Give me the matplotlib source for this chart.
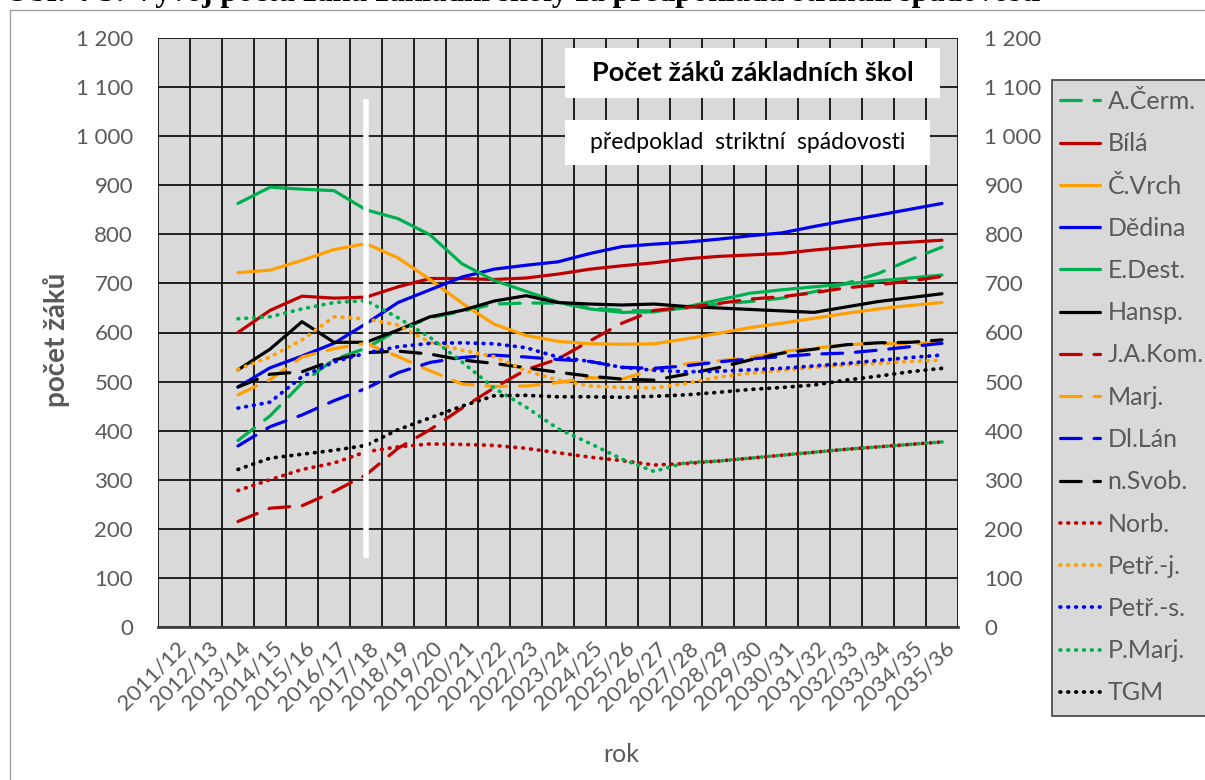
import numpy as np
import matplotlib.pyplot as plt
from matplotlib.lines import Line2D
from matplotlib.patches import Rectangle
from matplotlib.transforms import ScaledTranslation

# skolni roky na ose x
roky = ['2011/12', '2012/13', '2013/14', '2014/15', '2015/16', '2016/17',
        '2017/18', '2018/19', '2019/20', '2020/21', '2021/22', '2022/23',
        '2023/24', '2024/25', '2025/26', '2026/27', '2027/28', '2028/29',
        '2029/30', '2030/31', '2031/32', '2032/33', '2033/34', '2034/35',
        '2035/36']

nan = np.nan
# pocty zaku, prvni dva roky bez dat
a_cerm = [nan, nan, 380, 430, 497, 545, 568, 605, 630, 643, 658, 660, 660,
          650, 645, 644, 650, 658, 663, 670, 683, 700, 720, 748, 774]
bila = [nan, nan, 600, 645, 674, 670, 672, 693, 710, 710, 708, 711, 719,
        729, 736, 742, 750, 755, 758, 761, 768, 774, 780, 784, 788]
c_vrch = [nan, nan, 722, 727, 747, 769, 781, 752, 708, 660, 617, 594, 582,
          577, 576, 577, 587, 598, 610, 619, 629, 639, 648, 655, 661]
dedina = [nan, nan, 489, 528, 552, 578, 618, 661, 687, 713, 729, 737, 744,
          761, 775, 780, 784, 790, 797, 803, 816, 828, 839, 851, 863]
e_dest = [nan, nan, 863, 896, 892, 889, 850, 832, 799, 740, 706, 684, 662,
          648, 641, 642, 652, 666, 680, 687, 693, 699, 705, 711, 717]
hansp = [nan, nan, 524, 566, 622, 580, 580, 605, 632, 645, 664, 675, 661,
         658, 656, 658, 653, 650, 647, 644, 641, 652, 663, 671, 679]
ja_kom = [nan, nan, 215, 242, 247, 276, 310, 364, 402, 446, 487, 524, 546,
          583, 619, 645, 651, 659, 668, 673, 681, 691, 697, 705, 714]
marj = [nan, nan, 473, 504, 550, 567, 578, 551, 522, 495, 490, 491, 498,
        508, 505, 525, 536, 542, 549, 561, 568, 575, 578, 576, 581]
dl_lan = [nan, nan, 369, 408, 432, 461, 486, 518, 539, 549, 554, 550, 545,
          541, 529, 527, 532, 540, 546, 551, 556, 558, 564, 571, 578]
n_svob = [nan, nan, 489, 515, 520, 544, 559, 562, 556, 544, 537, 528, 519,
          511, 505, 503, 515, 528, 544, 558, 566, 575, 579, 580, 585]
norb = [nan, nan, 278, 300, 321, 334, 357, 367, 373, 372, 370, 364, 355,
        346, 339, 330, 333, 338, 344, 350, 356, 362, 367, 372, 377]
petr_j = [nan, nan, 525, 550, 585, 632, 628, 615, 580, 564, 551, 522, 503,
          491, 488, 487, 496, 509, 517, 523, 529, 534, 537, 541, 544]
petr_s = [nan, nan, 446, 458, 510, 540, 558, 571, 578, 579, 577, 569, 550,
          541, 529, 523, 520, 521, 524, 527, 532, 537, 543, 549, 554]
p_marj = [nan, nan, 628, 632, 648, 661, 665, 630, 590, 540, 487, 448, 404,
          374, 342, 317, 335, 338, 344, 350, 356, 362, 367, 372, 377]
tgm = [nan, nan, 321, 344, 352, 360, 370, 402, 426, 450, 471, 472, 469,
       469, 468, 470, 473, 478, 484, 488, 493, 503, 511, 520, 527]

GREEN = '#00b050'
RED = '#c00000'
ORANGE = '#ffa000'
BLUE = '#0000ee'
BLACK = '#000000'
GREY = '#595959'

DASH = (0, (6.5, 4))
DOT = (0, (0.2, 1.9))

serie = [
    ('A.Čerm.', a_cerm, GREEN, DASH),
    ('Bílá', bila, RED, '-'),
    ('Č.Vrch', c_vrch, ORANGE, '-'),
    ('Dědina', dedina, BLUE, '-'),
    ('E.Dest.', e_dest, GREEN, '-'),
    ('Hansp.', hansp, BLACK, '-'),
    ('J.A.Kom.', ja_kom, RED, DASH),
    ('Marj.', marj, ORANGE, DASH),
    ('Dl.Lán', dl_lan, BLUE, DASH),
    ('n.Svob.', n_svob, BLACK, DASH),
    ('Norb.', norb, RED, DOT),
    ('Petř.-j.', petr_j, ORANGE, DOT),
    ('Petř.-s.', petr_s, BLUE, DOT),
    ('P.Marj.', p_marj, GREEN, DOT),
    ('TGM', tgm, BLACK, DOT),
]

TEXT_FONT = ['Lato', 'DejaVu Sans']

fig = plt.figure(figsize=(12.05, 7.8), dpi=100)
ax = fig.add_axes([158 / 1205, 1 - 627 / 780, 800 / 1205, 589 / 780])
ax.set_facecolor('#d9d9d9')

x = np.arange(len(roky))
handles = []
for nazev, hodnoty, barva, styl in serie:
    lw = 2.7 if styl == DOT else 2.3
    ln, = ax.plot(x, hodnoty, color=barva, linestyle=styl, lw=lw,
                  label=nazev, solid_capstyle='round', dash_capstyle='round',
                  zorder=3)
    handles.append(ln)

# bila svisla cara u roku 2017/18
ax.vlines(roky.index('2017/18'), 140, 1075, color='white', lw=4, zorder=4)

ax.set_xlim(-0.5, len(roky) - 0.5)
ax.set_ylim(0, 1200)
yt = np.arange(0, 1201, 100)
ylabels = [f'{v:,}'.replace(',', ' ') for v in yt]
ax.set_yticks(yt)
ax.set_yticklabels(ylabels)
ax.set_xticks(x)
ax.set_xticklabels(roky, rotation=45, ha='right', va='center',
                   rotation_mode='anchor')
ax.set_xticks(np.arange(-0.5, len(roky), 1), minor=True)
ax.grid(True, which='minor', axis='x', color='black', lw=1.2, zorder=1)
ax.grid(True, which='major', axis='y', color='black', lw=1.2, zorder=1)
ax.tick_params(axis='both', which='both', length=0)
ax.tick_params(axis='y', pad=18, labelsize=16, labelcolor=GREY)
ax.tick_params(axis='x', pad=13, labelsize=16, labelcolor=GREY)
for lab in ax.get_xticklabels() + ax.get_yticklabels():
    lab.set_fontfamily(TEXT_FONT)
for lab in ax.get_xticklabels():
    lab.set_transform(lab.get_transform() +
                      ScaledTranslation(9 / 100, 0, fig.dpi_scale_trans))

ax2 = ax.twinx()
ax2.set_ylim(ax.get_ylim())
ax2.set_yticks(yt)
ax2.set_yticklabels(ylabels)
ax2.tick_params(axis='y', length=0, pad=19, labelsize=16, labelcolor=GREY)
for lab in ax2.get_yticklabels():
    lab.set_fontfamily(TEXT_FONT)

for a in (ax, ax2):
    for s in a.spines.values():
        s.set_visible(False)
ax.spines['bottom'].set_visible(True)
ax.spines['bottom'].set_color('#404040')
ax.spines['bottom'].set_linewidth(2)

# napisy v bilych ramecich
ax.add_patch(Rectangle((0.509, 0.898), 0.469, 0.085, transform=ax.transAxes,
                       facecolor='white', edgecolor='none', zorder=5))
ax.text(0.509 + 0.469 / 2, 0.898 + 0.085 / 2, 'Počet žáků základních škol',
        transform=ax.transAxes, ha='center', va='center', fontsize=19.5,
        fontweight='bold', family=TEXT_FONT, color='black', zorder=6)
ax.add_patch(Rectangle((0.509, 0.784), 0.456, 0.0764, transform=ax.transAxes,
                       facecolor='white', edgecolor='none', zorder=5))
ax.text(0.509 + 0.456 / 2, 0.784 + 0.0764 / 2,
        'předpoklad  striktní  spádovosti', transform=ax.transAxes,
        ha='center', va='center', fontsize=16.5, family=TEXT_FONT,
        color='black', zorder=6)

fig.text(57 / 1205, 1 - 340 / 780, 'počet žáků', rotation=90, ha='center',
         va='center', fontsize=20, fontweight='bold', color=GREY,
         family=TEXT_FONT)
fig.text(621 / 1205, 1 - 755 / 780, 'rok', ha='center', va='center',
         fontsize=18, color=GREY, family=TEXT_FONT)

# legenda v sedem ramecku
fig.patches.append(Rectangle((1052 / 1205, 1 - 716 / 780), 160 / 1205,
                             636 / 780, transform=fig.transFigure,
                             facecolor='#d9d9d9', edgecolor='#404040', lw=1.2))
leg = fig.legend(handles=handles, loc='upper left',
                 bbox_to_anchor=(1050 / 1205, 1 - 80 / 780), frameon=False,
                 prop={'family': TEXT_FONT, 'size': 18}, handlelength=1.6,
                 handletextpad=0.3, labelspacing=0.77, borderaxespad=0)
for t in leg.get_texts():
    t.set_color(GREY)

# ramecek stranky a oriznuty titulek nahore (v predloze je titulek
# z poloviny uriznuty hornim okrajem)
fig.add_artist(Line2D([10 / 1205, 1], [1 - 10 / 780, 1 - 10 / 780],
                      transform=fig.transFigure, color='#a0a0a0', lw=1))
fig.add_artist(Line2D([10 / 1205, 10 / 1205], [0, 1 - 10 / 780],
                      transform=fig.transFigure, color='#a0a0a0', lw=1))
fig.text(5 / 1205, 1 - 1 / 780,
         'Obr. 4-5: Vývoj počtu žáků základní školy za předpokladu '
         'striktní spádovosti', ha='left', va='baseline', fontsize=22.5,
         fontweight='bold', family=['Liberation Serif', 'DejaVu Serif'])

fig.savefig('out.png', dpi=100)
